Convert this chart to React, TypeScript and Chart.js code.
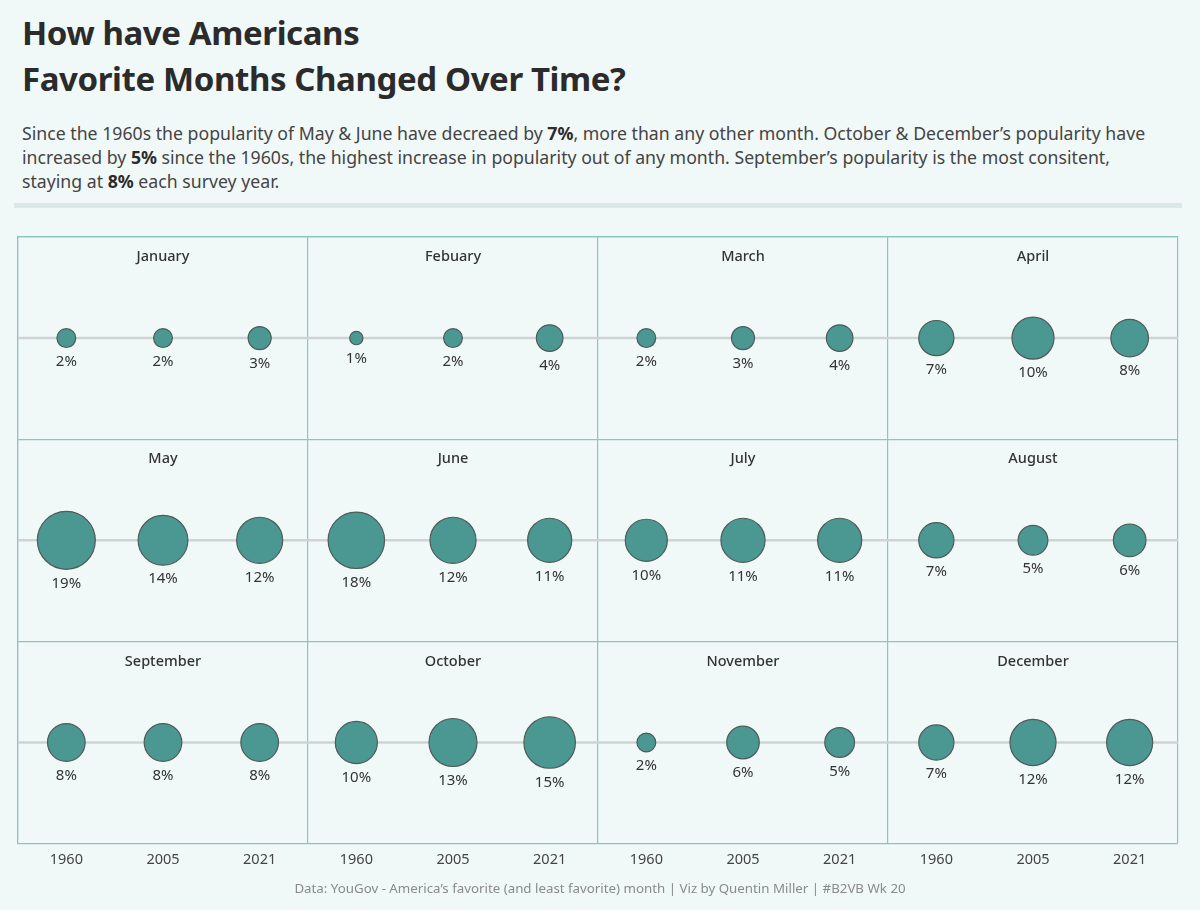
import React, { useEffect, useRef } from "react";
import { Chart, registerables } from "chart.js";

Chart.register(...registerables);

const months = [
  "January", "Febuary", "March", "April",
  "May", "June", "July", "August",
  "September", "October", "November", "December",
];
const years = ["1960", "2005", "2021"];
const values1960 = [2, 1, 2, 7, 19, 18, 10, 7, 8, 10, 2, 7];
const values2005 = [2, 2, 3, 10, 14, 12, 11, 5, 8, 13, 6, 12];
const values2021 = [3, 4, 4, 8, 12, 11, 11, 6, 8, 15, 5, 12];

const COLS = 4;
const ROWS = 3;
const BG = "#f1f9f8";
const GRID = "#8cc4c0";
const FONT = "'Noto Sans', 'Open Sans', sans-serif";

const seriesByYear = [values1960, values2005, values2021];

function rowCenter(monthIdx: number) {
  const row = Math.floor(monthIdx / COLS);
  return ROWS - row - 0.5;
}
function colStart(monthIdx: number) {
  return (monthIdx % COLS) * years.length;
}

const labelPlugin = {
  id: "panelLabels",
  afterDatasetsDraw(chart: any) {
    const { ctx, scales } = chart;
    const x = scales.x;
    const y = scales.y;
    ctx.save();
    ctx.font = `500 14.5px ${FONT}`;
    ctx.fillStyle = "#333";
    ctx.textAlign = "center";
    ctx.textBaseline = "middle";
    months.forEach((m, i) => {
      const cx = x.getPixelForValue(colStart(i) + years.length / 2);
      const rowTop = y.getPixelForValue(rowCenter(i) + 0.5);
      ctx.fillText(m, cx, rowTop + 20);
    });
    ctx.font = `15px ${FONT}`;
    ctx.fillStyle = "#333";
    chart.data.datasets.forEach((ds: any, di: number) => {
      if (ds.type !== "bubble") return;
      const meta = chart.getDatasetMeta(di);
      meta.data.forEach((el: any, j: number) => {
        const raw = ds.data[j];
        ctx.fillText(`${raw.v}%`, el.x, el.y + raw.r + 14);
      });
    });
    ctx.restore();
  },
};

export default function App() {
  const ref = useRef<HTMLCanvasElement | null>(null);

  useEffect(() => {
    document.body.style.margin = "0";
    document.body.style.background = BG;
    if (!ref.current) return;

    const bubbleSets = years.map((yr, yi) => ({
      type: "bubble" as const,
      label: yr,
      order: 1,
      data: seriesByYear[yi].map((v, mi) => ({
        x: colStart(mi) + yi + 0.5,
        y: rowCenter(mi),
        r: 6.65 * Math.sqrt(v),
        v,
      })),
      backgroundColor: "#4a9891",
      borderColor: "#4d5b59",
      borderWidth: 1.2,
      hoverRadius: 0,
    }));

    const lineSets = Array.from({ length: ROWS }, (_, r) => ({
      type: "line" as const,
      label: `row${r}`,
      order: 2,
      data: [
        { x: 0, y: r + 0.5 },
        { x: COLS * years.length, y: r + 0.5 },
      ],
      borderColor: "#d0d3d3",
      borderWidth: 2.5,
      pointRadius: 0,
      fill: false,
    }));

    const chart = new Chart(ref.current, {
      type: "bubble",
      data: { datasets: [...lineSets, ...bubbleSets] as any },
      plugins: [labelPlugin],
      options: {
        animation: false,
        responsive: false,
        maintainAspectRatio: false,
        layout: { autoPadding: false, padding: { left: 18, right: 22, top: 12, bottom: 33 } },
        plugins: {
          legend: { display: false },
          tooltip: { enabled: false },
        },
        events: [],
        scales: {
          x: {
            type: "linear",
            min: 0,
            max: COLS * years.length,
            position: "bottom",
            grid: { display: false, drawTicks: false },
            border: { display: false },
            afterBuildTicks: (axis: any) => {
              axis.ticks = Array.from({ length: COLS * years.length }, (_, i) => ({ value: i + 0.5 }));
            },
            ticks: {
              autoSkip: false,
              maxRotation: 0,
              padding: 8,
              color: "#444",
              font: { family: FONT, size: 14.5 },
              callback: (val: any) => years[Math.floor(Number(val)) % years.length],
            },
          },
          xg: {
            type: "linear",
            min: 0,
            max: COLS * years.length,
            position: "top",
            afterBuildTicks: (axis: any) => {
              axis.ticks = Array.from({ length: COLS + 1 }, (_, i) => ({ value: i * years.length }));
            },
            grid: { color: GRID, lineWidth: 1.2, drawTicks: false },
            border: { display: true, color: GRID, width: 1.2 },
            ticks: { display: false },
          },
          y: {
            type: "linear",
            min: 0,
            max: ROWS,
            afterBuildTicks: (axis: any) => {
              axis.ticks = Array.from({ length: ROWS + 1 }, (_, i) => ({ value: i }));
            },
            grid: { color: GRID, lineWidth: 1.2, drawTicks: false },
            border: { display: true, color: GRID, width: 1.2 },
            ticks: { display: false },
          },
        },
      } as any,
    });
    return () => chart.destroy();
  }, []);

  return (
    <div style={{ position: "relative", width: 1200, height: 910, background: BG, fontFamily: FONT, overflow: "hidden" }}>
      <div style={{ position: "absolute", left: 22, top: 10, fontSize: 33, fontWeight: 700, color: "#2b2b2b", lineHeight: "46px", letterSpacing: -0.4 }}>
        How have Americans<br />Favorite Months Changed Over Time?
      </div>
      <div style={{ position: "absolute", left: 22, top: 121, width: 1175, fontSize: 17.7, color: "#444", lineHeight: "24px", whiteSpace: "nowrap" }}>
        Since the 1960s the popularity of May &amp; June have decreaed by <b style={{ color: "#2b2b2b" }}>7%</b>, more than any other month. October &amp; December’s popularity have<br />
        increased by <b style={{ color: "#2b2b2b" }}>5%</b> since the 1960s, the highest increase in popularity out of any month. September’s popularity is the most consitent,<br />
        staying at <b style={{ color: "#2b2b2b" }}>8%</b> each survey year.
      </div>
      <div style={{ position: "absolute", left: 14, top: 203, width: 1168, height: 5, background: "#dae9e7" }} />
      <div style={{ position: "absolute", left: 0, top: 225, width: 1200, height: 685 }}>
        <canvas ref={ref} width={1200} height={685} style={{ display: "block" }} />
      </div>
      <div style={{ position: "absolute", left: 0, top: 879, width: 1200, textAlign: "center", fontSize: 13.3, color: "#8a8a8a" }}>
        Data: YouGov - America’s favorite (and least favorite) month | Viz by Quentin Miller | #B2VB Wk 20
      </div>
    </div>
  );
}
